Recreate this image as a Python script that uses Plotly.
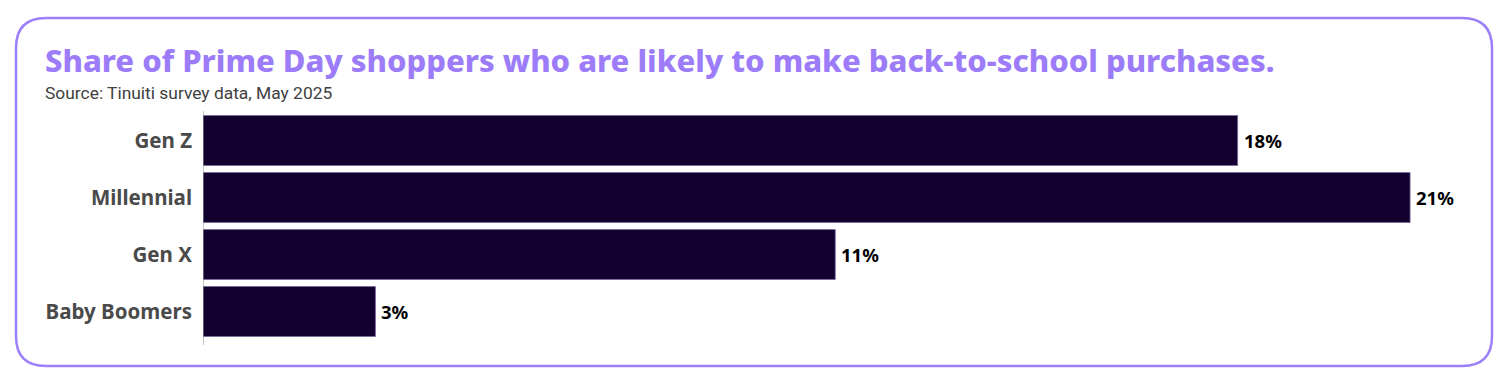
import plotly.graph_objects as go

categories = ["Gen Z", "Millennial", "Gen X", "Baby Boomers"]
values = [18, 21, 11, 3]
value_labels = ["18%", "21%", "11%", "3%"]

W, H = 1510, 387
ML, MR, MT, MB = 203, 42, 112, 47
PW = W - ML - MR
PH = H - MT - MB

def px(x):
    return (x - ML) / PW

def py(y):
    return 1 - (y - MT) / PH

fig = go.Figure()
fig.add_trace(go.Bar(
    y=categories, x=values, orientation="h",
    marker=dict(color="#13002F", line=dict(color="#7a6a99", width=0.8)),
    cliponaxis=False, hoverinfo="skip",
))
for c, v, t in zip(categories, values, value_labels):
    fig.add_annotation(x=v, y=c, xref="x", yref="y", text=t, showarrow=False,
                       xanchor="left", yanchor="middle", xshift=4,
                       font=dict(family="Noto Sans", size=18.5, color="#000000", weight=700))

# rounded border
L, T, R, B, r = 16, 18, 1492, 366, 30
path = (f"M {px(L+r)} {py(T)} L {px(R-r)} {py(T)} Q {px(R)} {py(T)} {px(R)} {py(T+r)} "
        f"L {px(R)} {py(B-r)} Q {px(R)} {py(B)} {px(R-r)} {py(B)} "
        f"L {px(L+r)} {py(B)} Q {px(L)} {py(B)} {px(L)} {py(B-r)} "
        f"L {px(L)} {py(T+r)} Q {px(L)} {py(T)} {px(L+r)} {py(T)} Z")
fig.add_shape(type="path", path=path, xref="paper", yref="paper",
              line=dict(color="#9C80FB", width=2.5), layer="below")
# category axis line
fig.add_shape(type="line", xref="x", yref="paper", x0=0, x1=0, y0=py(111), y1=py(345),
              line=dict(color="#8a8a8a", width=1))

fig.add_annotation(text="Share of Prime Day shoppers who are likely to make back-to-school purchases.",
                   x=px(43), y=py(59.5), xref="paper", yref="paper", xanchor="left", yanchor="middle",
                   showarrow=False, font=dict(family="Noto Sans", size=31, color="#9C7CF9", weight=800))
fig.add_annotation(text="Source: Tinuiti survey data, May 2025",
                   x=px(43), y=py(93), xref="paper", yref="paper", xanchor="left", yanchor="middle",
                   showarrow=False, font=dict(family="Roboto", size=17.4, color="#404040"))

fig.update_layout(
    width=W, height=H, margin=dict(l=ML, r=MR, t=MT, b=MB),
    paper_bgcolor="white", plot_bgcolor="white", showlegend=False, bargap=0.123,
    xaxis=dict(range=[0, PW / 57.48], visible=False, fixedrange=True),
    yaxis=dict(autorange="reversed", showline=False,
               showgrid=False, ticks="", ticklabelstandoff=10,
               tickfont=dict(family="Noto Sans", size=20.5, color="#4a4a4a", weight=700)),
)
fig.write_html("out.html")
